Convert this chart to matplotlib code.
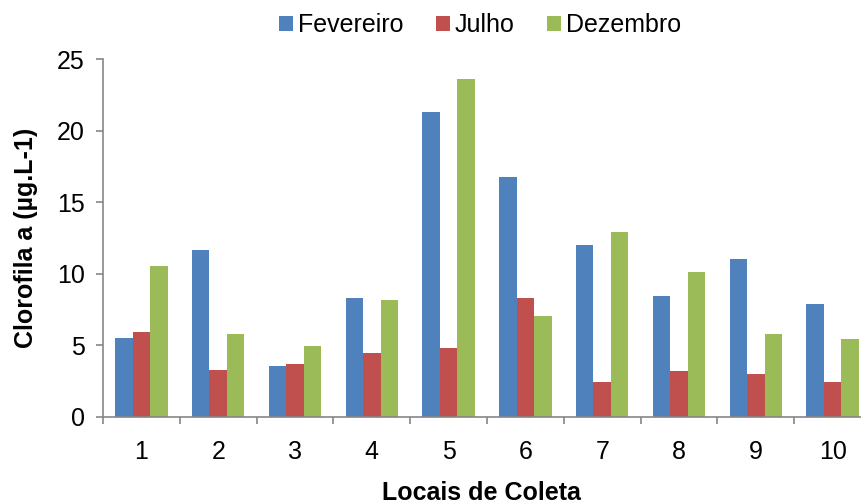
import matplotlib
matplotlib.use("Agg")
from matplotlib import pyplot as plt
import numpy as np

plt.rcParams['font.family'] = ['Liberation Sans', 'DejaVu Sans']

locais = ["1", "2", "3", "4", "5", "6", "7", "8", "9", "10"]
fevereiro = [5.5, 11.65, 3.57, 8.3, 21.33, 16.74, 12.0, 8.44, 11.0, 7.9]
julho = [5.9, 3.3, 3.69, 4.43, 4.83, 8.3, 2.43, 3.17, 3.01, 2.43]
dezembro = [10.55, 5.78, 4.94, 8.16, 23.59, 7.04, 12.92, 10.14, 5.78, 5.41]

series = [("Fevereiro", fevereiro, "#4F81BD"),
          ("Julho", julho, "#C0504D"),
          ("Dezembro", dezembro, "#9BBB59")]

fig = plt.figure(figsize=(8.61, 5.04), dpi=100)
ax = fig.add_axes([103 / 861, 1 - 416.7 / 504, 768 / 861, 357.4 / 504])

x = np.arange(len(locais))
w = 0.227
for i, (name, vals, color) in enumerate(series):
    ax.bar(x + (i - 1) * w, vals, width=w, color=color, label=name, linewidth=0)

ax.set_xlim(-0.5, len(locais) - 0.5)
ax.set_ylim(0, 25)
ax.set_yticks(range(0, 26, 5))
ax.set_xticks(x)
ax.set_xticklabels(locais)
ax.set_xticks(np.arange(-0.5, len(locais)), minor=True)

for side in ["top", "right"]:
    ax.spines[side].set_visible(False)
for side in ["left", "bottom"]:
    ax.spines[side].set_color("#868686")
    ax.spines[side].set_linewidth(1.2)

ax.tick_params(axis="x", which="major", length=0, pad=17, labelsize=18)
ax.tick_params(axis="x", which="minor", length=5, width=1.2, color="#868686", direction="out")
ax.tick_params(axis="y", length=5, width=1.2, color="#868686", pad=8, labelsize=18)

ax.set_ylabel("Clorofila a (µg.L-1)", fontsize=18, fontweight="bold", labelpad=14)
fig.text(481 / 861, 1 - 493 / 504, "Locais de Coleta", fontsize=18, fontweight="bold",
         ha="center", va="center")

fig.legend(loc="center", bbox_to_anchor=(480 / 861, 1 - 25 / 504), ncol=3, frameon=False,
           fontsize=18, handlelength=0.55, handleheight=0.55, handletextpad=0.2,
           columnspacing=1.3)

fig.savefig("out.png", dpi=100)
